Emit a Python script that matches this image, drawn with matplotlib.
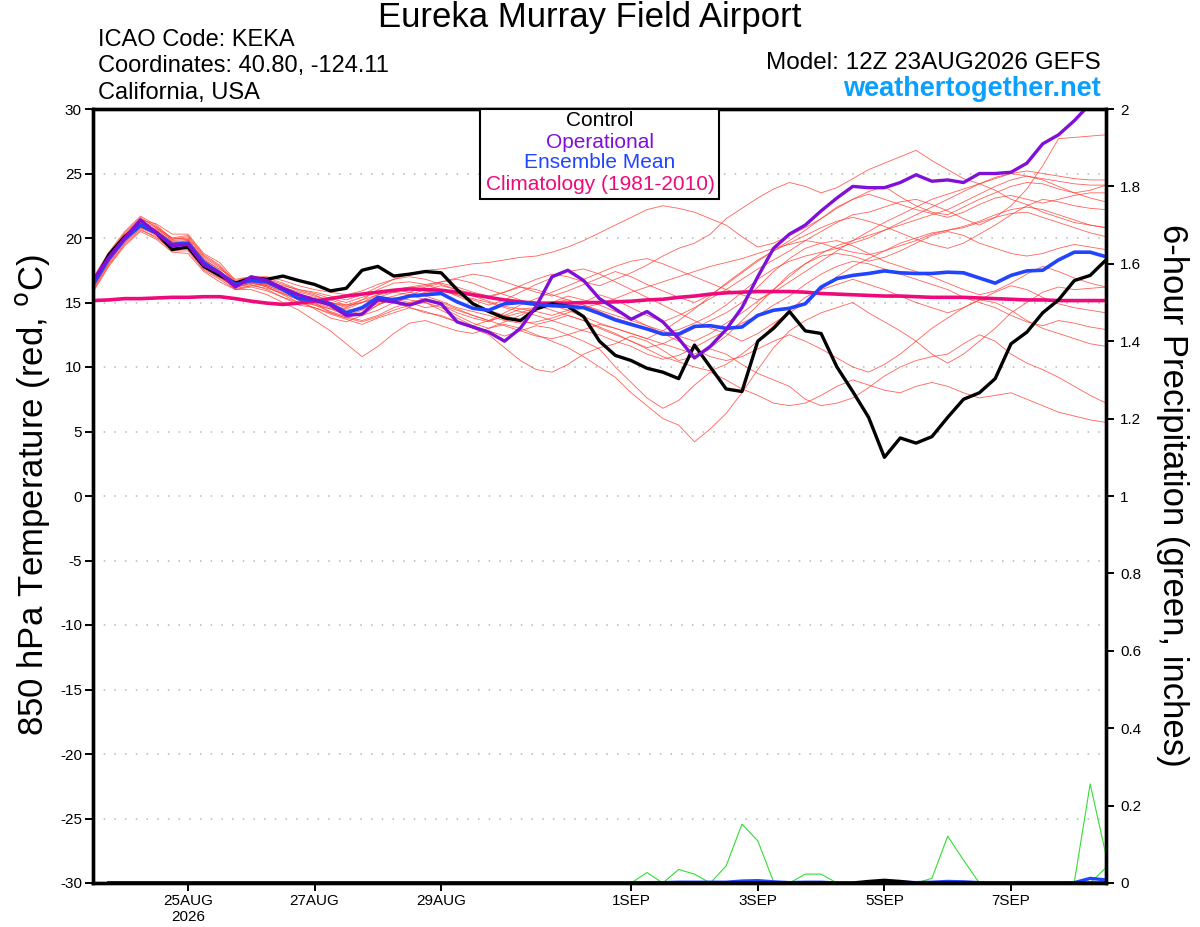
import matplotlib
matplotlib.use("Agg")
import matplotlib.pyplot as plt
from matplotlib.patches import Rectangle
import numpy as np
import pandas as pd

plt.rcParams["font.family"] = ["Liberation Sans", "DejaVu Sans"]

# 6-hourly forecast steps, 12Z 23 Aug 2026 to 12Z 8 Sep 2026
times = pd.date_range("2026-08-23 12:00", periods=65, freq="6h")

tick_dates = ["2026-08-25", "2026-08-27", "2026-08-29", "2026-09-01",
              "2026-09-03", "2026-09-05", "2026-09-07"]
tick_labels = ["25AUG\n2026", "27AUG", "29AUG", "1SEP", "3SEP", "5SEP", "7SEP"]

# 850 hPa temperature (C)
control = [16.5, 18.7, 20.1, 21.0, 20.4, 19.1, 19.3, 17.8, 17.1, 16.5, 16.9, 16.8, 17.05,
           16.7, 16.4, 15.9, 16.1, 17.5, 17.8, 17.05, 17.2, 17.4, 17.3, 16.0, 14.9, 14.3,
           13.8, 13.6, 14.5, 14.9, 14.7, 13.9, 12.0, 10.9, 10.5, 9.9, 9.6, 9.1, 11.7, 10.0,
           8.3, 8.1, 12.0, 13.0, 14.3, 12.8, 12.6, 10.0, 8.1, 6.1, 3.0, 4.5, 4.1, 4.6, 6.1,
           7.5, 8.0, 9.1, 11.8, 12.7, 14.2, 15.2, 16.7, 17.1, 18.3]

operational = [16.7, 18.5, 20.0, 21.4, 20.4, 19.4, 19.5, 17.9, 17.3, 16.2, 17.0, 16.7, 16.1,
               15.6, 15.2, 14.8, 14.0, 14.1, 15.2, 15.05, 14.8, 15.2, 14.9, 13.5, 13.1, 12.7,
               12.0, 13.0, 14.7, 17.0, 17.5, 16.7, 15.3, 14.5, 13.7, 14.3, 13.5, 12.2, 10.7,
               11.6, 12.9, 14.6, 17.0, 19.2, 20.3, 21.0, 22.1, 23.1, 24.0, 23.9, 23.9, 24.3,
               24.9, 24.4, 24.5, 24.3, 25.0, 25.0, 25.1, 25.8, 27.3, 28.0, 29.1, 30.4, 31.2]

ens_mean = [16.4, 18.4, 19.9, 21.0, 20.4, 19.5, 19.6, 18.1, 17.3, 16.4, 16.7, 16.6, 16.0,
            15.3, 15.2, 14.9, 14.2, 14.6, 15.4, 15.2, 15.5, 15.6, 15.7, 15.05, 14.55, 14.4,
            14.9, 15.0, 14.85, 14.75, 14.7, 14.6, 14.15, 13.65, 13.3, 12.95, 12.55, 12.55,
            13.15, 13.2, 13.0, 13.1, 14.0, 14.4, 14.55, 14.9, 16.2, 16.85, 17.1, 17.25, 17.45,
            17.3, 17.25, 17.25, 17.35, 17.3, 16.9, 16.5, 17.1, 17.45, 17.5, 18.3, 18.9, 18.9,
            18.55]

climatology = [15.15, 15.2, 15.3, 15.3, 15.35, 15.4, 15.4, 15.45, 15.45, 15.3, 15.1, 14.95,
               14.85, 14.95, 15.1, 15.3, 15.5, 15.65, 15.8, 15.95, 16.05, 16.0, 15.95, 15.8,
               15.6, 15.4, 15.2, 15.05, 14.95, 14.95, 14.95, 15.0, 15.0, 15.05, 15.1, 15.2,
               15.25, 15.4, 15.5, 15.65, 15.75, 15.8, 15.85, 15.85, 15.85, 15.8, 15.7, 15.65,
               15.6, 15.55, 15.5, 15.5, 15.45, 15.4, 15.4, 15.4, 15.35, 15.3, 15.25, 15.2, 15.2,
               15.15, 15.15, 15.15, 15.15]

members = [
    [16.8, 18.8, 20.4, 21.6, 20.8, 19.8, 19.9, 18.3, 17.6,
     16.8, 17.0, 16.9, 16.5, 16.0, 15.8, 15.5, 15.2, 15.6, 16.2, 16.8, 17.2, 17.5, 17.6, 17.8, 18.0,
     18.1, 18.3, 18.5, 18.6, 18.9, 19.3, 19.8, 20.4, 21.0, 21.6, 22.2, 22.5, 22.3, 22.0, 21.5, 21.0,
     20.1, 19.3, 19.6, 20.2, 20.8, 21.5, 22.3, 23.0, 23.6, 24.0, 23.2, 22.5, 22.0, 21.8, 22.4, 23.0,
     23.5, 24.0, 24.3, 24.2, 23.8, 23.5, 23.7, 24.1],
    [16.1, 18.0, 19.6, 20.7, 20.0, 19.2, 19.3, 17.8, 17.0,
     16.2, 16.5, 16.2, 15.6, 15.0, 14.8, 14.5, 14.0, 14.4, 15.2, 15.5, 15.8, 16.2, 16.5, 16.2, 15.8,
     15.5, 15.8, 16.3, 16.8, 17.2, 17.0, 16.6, 16.3, 16.8, 17.3, 17.9, 18.6, 19.2, 19.6, 20.3, 21.5,
     22.3, 23.1, 23.8, 24.3, 24.0, 23.5, 23.9, 24.6, 25.3, 25.8, 26.3, 26.8, 26.0, 25.3, 24.6, 24.2,
     23.7, 23.0, 22.6, 22.0, 21.6, 21.2, 21.0, 20.8],
    [16.3, 18.3, 19.8, 20.9, 20.5, 19.6, 19.4, 17.9, 17.1,
     16.0, 16.3, 16.5, 16.0, 15.2, 14.5, 13.8, 13.5, 14.0, 14.8, 15.3, 15.0, 14.6, 14.8, 14.2, 13.8,
     13.5, 14.0, 14.5, 14.3, 14.0, 14.4, 15.0, 15.6, 15.2, 14.6, 14.0, 13.5, 14.0, 14.6, 15.3, 16.0,
     16.8, 17.6, 18.3, 19.0, 19.8, 20.5, 21.2, 21.8, 22.0, 22.4, 22.8, 23.0, 22.6, 22.1, 21.5, 21.0,
     21.6, 22.5, 23.8, 25.6, 27.7, 27.8, 27.9, 28.0],
    [15.9, 17.9, 19.5, 20.6, 20.1, 19.0, 19.0, 17.5, 16.8,
     16.0, 16.0, 15.6, 15.0, 14.4, 13.6, 12.8, 11.8, 10.8, 11.6, 12.6, 13.4, 13.6, 13.2, 12.8, 12.6,
     13.0, 13.3, 13.0, 12.5, 12.0, 11.5, 10.8, 10.0, 9.2, 8.0, 7.0, 6.0, 5.5, 4.2, 5.2, 6.4,
     8.0, 9.8, 11.5, 12.8, 13.6, 14.2, 14.6, 15.0, 14.2, 13.5, 12.8, 12.0, 11.0, 10.3, 11.0, 12.0,
     13.0, 14.2, 15.0, 15.8, 16.2, 16.0, 16.1, 16.2],
    [16.5, 18.6, 20.2, 21.3, 20.6, 19.7, 19.8, 18.4, 17.5,
     16.3, 16.6, 16.4, 16.0, 15.6, 15.0, 14.2, 13.8, 14.2, 14.8, 15.4, 15.2, 15.0, 14.4, 13.8, 13.2,
     12.8, 12.4, 12.8, 13.2, 13.0, 12.5, 12.0, 11.4, 10.0, 8.8, 7.6, 6.8, 7.4, 8.6, 9.6, 9.0,
     8.3, 7.8, 7.2, 7.0, 7.2, 7.8, 8.5, 9.0, 8.6, 8.2, 8.0, 8.5, 8.8, 8.5, 8.0, 7.6,
     7.8, 8.0, 7.5, 7.0, 6.5, 6.2, 5.9, 5.7],
    [16.7, 18.5, 20.0, 21.1, 20.7, 19.9, 20.1, 18.6, 17.8,
     16.5, 16.8, 16.6, 16.2, 15.8, 15.5, 15.2, 14.8, 15.0, 15.3, 15.0, 14.6, 14.2, 14.0, 13.5, 13.0,
     12.5, 11.5, 10.5, 9.8, 9.6, 10.2, 11.0, 11.5, 11.8, 12.4, 12.0, 11.3, 10.5, 10.8, 11.4, 11.0,
     10.2, 9.5, 9.0, 8.5, 7.5, 7.0, 7.2, 7.6, 8.4, 9.3, 10.0, 10.5, 10.8, 11.0, 11.8, 12.5,
     12.0, 11.0, 10.3, 9.8, 9.2, 8.5, 7.8, 7.2],
    [16.6, 18.7, 20.3, 21.5, 20.9, 20.0, 19.9, 18.2, 17.4,
     16.6, 16.9, 16.8, 16.4, 15.9, 15.6, 15.0, 14.6, 15.2, 16.0, 16.5, 16.6, 16.4, 16.0, 15.6, 15.3,
     15.0, 14.6, 14.3, 14.0, 13.6, 13.2, 12.8, 12.5, 12.0, 11.6, 11.0, 10.6, 10.9, 11.5, 12.2, 12.8,
     13.4, 14.0, 14.8, 15.5, 16.4, 17.2, 17.8, 18.2, 18.0, 17.6, 17.2, 16.8, 16.4, 16.0, 15.4, 15.0,
     14.6, 14.0, 13.5, 13.2, 13.6, 13.4, 13.1, 12.9],
    [16.2, 18.2, 19.7, 20.8, 20.2, 19.3, 19.1, 17.6, 16.9,
     16.2, 16.4, 16.0, 15.4, 14.8, 14.6, 14.2, 13.8, 13.5, 13.9, 14.4, 14.8, 15.0, 14.6, 14.0, 13.4,
     13.0, 13.5, 14.0, 14.5, 15.0, 15.5, 15.2, 14.8, 14.3, 13.8, 13.2, 12.6, 12.0, 11.4, 10.8, 10.5,
     10.8, 11.4, 12.0, 12.5, 12.0, 11.4, 10.7, 10.0, 9.6, 10.2, 11.0, 12.0, 13.0, 13.8, 14.6, 15.2,
     15.0, 14.4, 13.6, 13.0, 12.6, 12.2, 11.8, 11.6],
    [16.4, 18.4, 20.0, 21.2, 20.5, 19.5, 19.7, 18.3, 17.3,
     16.4, 16.7, 16.5, 16.0, 15.4, 15.0, 14.8, 14.5, 15.0, 15.6, 16.0, 16.2, 16.4, 16.6, 16.8, 16.5,
     16.0, 15.6, 15.2, 14.8, 14.4, 14.0, 13.6, 13.0, 12.5, 12.0, 11.5, 11.8, 12.4, 13.0, 13.6, 14.2,
     15.0, 16.2, 17.4, 18.4, 19.2, 19.6, 19.8, 19.4, 18.8, 18.2, 17.8, 17.4, 17.0, 16.5, 16.0, 15.6,
     15.9, 16.5, 17.2, 17.8, 17.4, 16.9, 16.5, 16.2],
    [16.0, 18.1, 19.8, 20.9, 20.3, 19.4, 19.4, 17.9, 17.0,
     16.1, 16.3, 16.1, 15.7, 15.2, 14.9, 14.5, 14.3, 14.5, 14.9, 15.2, 15.6, 16.0, 16.3, 16.0, 15.5,
     15.1, 14.7, 14.5, 14.6, 14.8, 14.4, 13.9, 13.4, 13.0, 12.6, 12.2, 11.8, 11.4, 11.0, 11.5, 12.4,
     13.6, 14.8, 16.0, 17.2, 18.0, 18.6, 18.8, 18.6, 18.2, 18.5, 19.0, 19.6, 20.2, 20.5, 20.2, 19.6,
     19.2, 18.8, 18.6, 18.8, 19.2, 19.5, 19.3, 19.1],
    [16.9, 18.9, 20.5, 21.7, 21.0, 19.9, 20.0, 18.5, 17.7,
     16.5, 16.9, 16.7, 16.1, 15.5, 15.3, 14.9, 14.4, 14.6, 15.0, 15.3, 15.5, 15.7, 15.9, 15.6, 15.2,
     14.8, 15.2, 15.8, 16.4, 16.9, 17.4, 17.6, 17.2, 16.6, 16.0, 15.4, 14.8, 14.2, 13.6, 13.0, 12.6,
     12.0, 12.6, 13.4, 14.2, 15.0, 16.0, 17.0, 17.8, 18.4, 19.0, 19.6, 20.0, 20.4, 20.6, 20.8, 21.2,
     21.6, 21.9, 22.0, 21.6, 21.2, 20.8, 20.4, 20.1],
    [16.5, 18.5, 20.1, 21.3, 20.8, 20.0, 20.2, 18.7, 17.9,
     16.6, 16.8, 16.6, 16.3, 16.0, 15.7, 15.3, 15.0, 15.4, 15.8, 16.0, 15.8, 15.5, 15.1, 14.6, 14.3,
     14.0, 13.6, 13.4, 13.5, 13.8, 14.2, 14.6, 14.9, 15.3, 15.8, 16.2, 16.6, 17.0, 17.4, 17.8, 18.1,
     18.4, 18.8, 19.2, 19.5, 19.8, 19.6, 19.2, 18.9, 18.7, 19.0, 19.4, 19.8, 20.3, 20.6, 20.9, 21.3,
     21.8, 22.2, 22.4, 22.2, 21.8, 21.4, 21.0, 20.8],
    [16.2, 18.3, 19.9, 21.0, 20.3, 19.3, 19.2, 17.7, 17.0,
     16.3, 16.6, 16.3, 15.8, 15.3, 14.8, 14.3, 13.9, 13.6, 14.0, 14.6, 15.0, 15.3, 15.0, 14.5, 14.0,
     13.6, 13.2, 12.8, 12.4, 12.2, 12.5, 12.9, 13.3, 13.0, 12.6, 12.2, 12.8, 13.6, 14.5, 15.5, 16.5,
     17.4, 18.3, 19.0, 19.6, 20.2, 20.8, 21.3, 21.6, 21.3, 20.9, 20.4, 19.9, 19.5, 19.2, 19.6, 20.3,
     21.0, 21.8, 22.5, 23.0, 22.8, 22.5, 22.3, 22.2],
    [16.8, 18.6, 20.2, 21.4, 21.1, 20.3, 20.3, 18.8, 18.1,
     16.7, 17.0, 17.0, 16.7, 16.3, 16.0, 15.8, 15.6, 15.9, 16.4, 16.8, 17.0, 16.8, 16.4, 16.0, 15.7,
     15.4, 15.8, 16.2, 16.0, 15.6, 15.2, 14.8, 14.4, 14.0, 13.6, 13.2, 12.8, 12.4, 12.0, 12.6, 13.4,
     14.2, 15.1, 16.0, 17.0, 18.0, 18.8, 19.4, 19.8, 20.2, 20.6, 21.0, 21.4, 21.8, 22.2, 22.8, 23.4,
     24.0, 24.5, 24.8, 24.5, 24.0, 23.5, 23.1, 22.8],
    [16.3, 18.2, 19.8, 20.8, 20.4, 19.6, 19.6, 18.1, 17.2,
     16.2, 16.5, 16.3, 15.9, 15.4, 15.2, 15.0, 14.7, 15.0, 15.4, 15.8, 16.1, 16.3, 16.6, 16.9, 17.2,
     17.0, 16.6, 16.2, 15.8, 15.5, 15.9, 16.4, 16.9, 17.4, 17.0, 16.4, 15.9, 15.4, 15.0, 15.6, 16.4,
     17.3, 18.2, 19.0, 19.8, 20.6, 21.5, 22.4, 23.0, 23.4, 23.0, 22.6, 22.2, 21.9, 21.6, 22.0, 22.6,
     23.1, 23.3, 23.0, 22.7, 23.0, 23.3, 23.5, 23.5],
    [16.6, 18.6, 20.1, 21.1, 20.6, 19.7, 19.5, 18.0, 17.4,
     16.4, 16.6, 16.4, 16.0, 15.6, 15.4, 15.0, 14.8, 15.2, 15.6, 15.8, 15.6, 15.2, 14.8, 14.4, 14.0,
     13.6, 13.9, 14.2, 14.6, 15.0, 15.2, 14.8, 14.3, 13.8, 13.4, 13.0, 12.6, 12.9, 13.4, 14.0, 14.8,
     15.8, 16.8, 17.6, 18.2, 18.6, 18.9, 19.2, 19.6, 20.0, 20.6, 21.2, 21.8, 22.4, 23.0, 23.6, 24.2,
     24.7, 25.0, 24.8, 24.6, 24.4, 24.2, 24.1, 24.1],
    [15.8, 17.8, 19.4, 20.5, 19.9, 18.9, 18.8, 17.4, 16.6,
     16.0, 16.2, 15.9, 15.4, 15.0, 14.6, 14.1, 13.7, 13.3, 13.8, 14.2, 14.6, 14.3, 13.9, 13.5, 13.2,
     13.6, 14.2, 14.8, 15.3, 15.8, 16.3, 16.8, 17.3, 17.8, 18.2, 18.4, 18.0, 17.5, 17.0, 16.5, 16.0,
     15.6, 15.2, 15.8, 16.6, 17.4, 18.2, 19.0, 19.8, 20.5, 21.2, 21.8, 22.4, 23.0, 23.4, 23.8, 24.2,
     24.6, 25.0, 25.2, 25.0, 24.8, 24.6, 24.5, 24.5],
    [16.4, 18.5, 20.0, 21.2, 20.6, 19.6, 19.8, 18.2, 17.3,
     16.5, 16.6, 16.2, 15.7, 15.2, 15.0, 14.6, 14.2, 14.0, 14.4, 15.0, 15.4, 15.8, 16.0, 15.5, 15.0,
     14.4, 14.0, 13.6, 13.3, 13.6, 14.0, 13.6, 13.1, 12.6, 12.0, 11.4, 10.8, 10.4, 10.0, 9.7, 10.2,
     11.0, 12.0, 13.2, 14.4, 15.4, 16.0, 16.4, 16.8, 16.4, 16.0, 15.5, 15.0, 14.6, 14.2, 14.6, 15.2,
     15.8, 16.3, 16.0, 15.4, 14.9, 14.6, 14.4, 14.2],
]

# 6-hour precipitation (inches), steps 1..64
precip_member_a = [0] * 33 + [0.0, 0.027, 0.0, 0.035, 0.023, 0.0, 0.044, 0.152, 0.109, 0.003,
                             0.0, 0.023, 0.023, 0.0, 0.0, 0.0, 0.0, 0.0, 0.0, 0.012, 0.121,
                             0.059, 0.0, 0.0, 0.0, 0.0, 0.0, 0.0, 0.003, 0.256, 0.072]
precip_member_b = [0] * 62 + [0.0, 0.04]
precip_mean = [0] * 33 + [0.0, 0.001, 0.001, 0.002, 0.002, 0.002, 0.002, 0.005, 0.006, 0.003,
                         0.001, 0.002, 0.002, 0.0, 0.0, 0.0, 0.001, 0.002, 0.001, 0.002, 0.004,
                         0.003, 0.001, 0.0, 0.0, 0.0, 0.0, 0.0, 0.001, 0.012, 0.008]
precip_control = [0] * 47 + [0.0, 0.004, 0.007, 0.004, 0.0, 0.0, 0.0, 0.0, 0.0, 0.0, 0.0, 0.0,
                            0.0, 0.0, 0.0, 0.0, 0.0]

fig = plt.figure(figsize=(12, 9.27), dpi=100)
ax = fig.add_axes([93 / 1200, 44 / 927, 1013 / 1200, 774 / 927])
ax2 = ax.twinx()

for m in members:
    ax.plot(times, m, color="#ff3b30", lw=0.6, alpha=0.8, zorder=2)
ax.plot(times, climatology, color="#ee0a7a", lw=2.6, zorder=4)
ax.plot(times, control, color="black", lw=2.4, zorder=5)
ax.plot(times, ens_mean, color="#2244ff", lw=2.6, zorder=6)
ax.plot(times, operational, color="#8010d8", lw=2.4, zorder=7)

ptimes = times[1:]
ax2.plot(ptimes, precip_member_a, color="#33dd33", lw=0.8, clip_on=False)
ax2.plot(ptimes, precip_member_b, color="#33dd33", lw=0.8, clip_on=False)
ax2.plot(ptimes, precip_mean, color="#2244ff", lw=2.4, clip_on=False)
ax2.plot(ptimes, precip_control, color="black", lw=2.4, clip_on=False)

ax.set_xlim(times[0], times[-1])
ax.set_ylim(-30, 30)
ax2.set_ylim(0, 2)

ax.set_yticks(range(-30, 31, 5))
ax.set_yticklabels([str(v) for v in range(-30, 31, 5)])
ax2.set_yticks(np.arange(0, 2.01, 0.2))
ax2.set_yticklabels(["0", "0.2", "0.4", "0.6", "0.8", "1", "1.2", "1.4", "1.6", "1.8", "2"])
ax.set_xticks(pd.to_datetime(tick_dates))
ax.set_xticklabels(tick_labels)

for v in range(-25, 30, 5):
    ax.axhline(v, color="#b5b5b5", lw=1.1, linestyle=(0, (1, 6)), zorder=1)

ax.tick_params(axis="both", direction="out", length=6, width=1.4, labelsize=11, pad=2)
ax2.tick_params(axis="y", direction="out", length=6, width=1.4, labelsize=11, pad=4)
for a in (ax, ax2):
    for s in a.spines.values():
        s.set_linewidth(2.4)

# header texts
fig.text(590 / 1200, 1 - 18 / 927, "Eureka Murray Field Airport", ha="center", va="center",
         fontsize=25)
fig.text(98 / 1200, 1 - 40 / 927, "ICAO Code: KEKA", ha="left", va="center", fontsize=17)
fig.text(98 / 1200, 1 - 66 / 927, "Coordinates: 40.80, -124.11", ha="left", va="center",
         fontsize=17)
fig.text(98 / 1200, 1 - 93 / 927, "California, USA", ha="left", va="center", fontsize=17)
fig.text(1101 / 1200, 1 - 63 / 927, "Model: 12Z 23AUG2026 GEFS", ha="right", va="center",
         fontsize=17.5)
fig.text(1101 / 1200, 1 - 89 / 927, "weathertogether.net", ha="right", va="center",
         fontsize=19.5, fontweight="bold", color="#0aa0ff")

# legend box
fig.patches.append(Rectangle((480 / 1200, 1 - 199 / 927), 239 / 1200, 90 / 927,
                             transform=fig.transFigure, facecolor="white",
                             edgecolor="black", lw=1.5, zorder=10))
legend_items = [("Control", "black", 121), ("Operational", "#8010d8", 142),
                ("Ensemble Mean", "#2244ff", 163),
                ("Climatology (1981-2010)", "#ee0a7a", 185)]
for label, col, ypix in legend_items:
    fig.text(600 / 1200, 1 - ypix / 927, label, ha="center", va="center", fontsize=15,
             color=col, zorder=11)

fig.text(33 / 1200, 1 - 495 / 927, "850 hPa Temperature (red, $^{\\rm o}$C)", rotation=90,
         ha="center", va="center", fontsize=25)
fig.text(1172 / 1200, 1 - 495 / 927, "6-hour Precipitation (green, inches)", rotation=270,
         ha="center", va="center", fontsize=25)

fig.savefig("out.png", dpi=100)
